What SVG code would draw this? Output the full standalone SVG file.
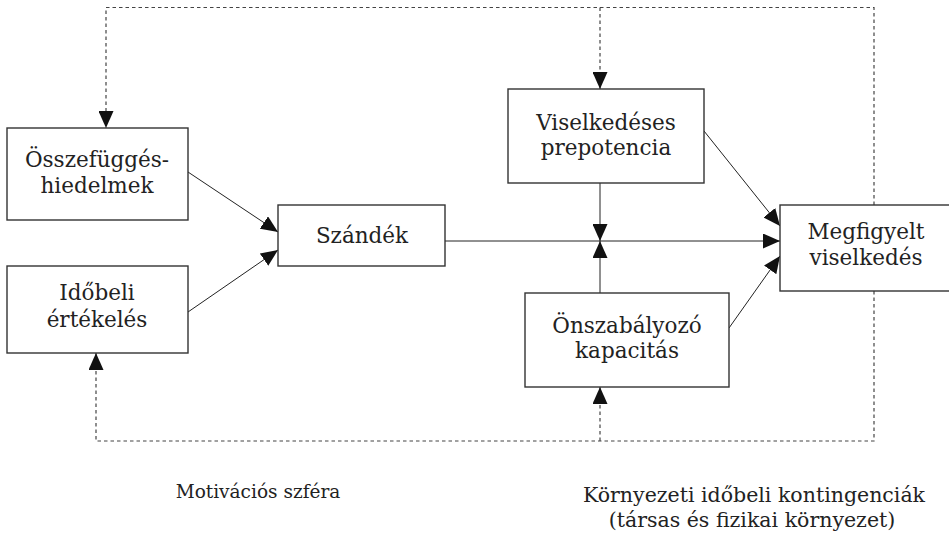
<svg xmlns="http://www.w3.org/2000/svg" width="949" height="539" viewBox="0 0 949 539">
<defs>
<marker id="ah" viewBox="0 0 17 15" refX="17" refY="7.5" markerWidth="17" markerHeight="15" markerUnits="userSpaceOnUse" orient="auto">
<path d="M0,0 L17,7.5 L0,15 Z" fill="#111"/>
</marker>
</defs>
<style>
.box{fill:#fff;stroke:#333;stroke-width:1.4}
.t{font-family:"DejaVu Serif","Liberation Serif",serif;font-size:21.5px;fill:#222;text-anchor:middle}
.b{font-family:"DejaVu Serif","Liberation Serif",serif;font-size:18.5px;fill:#222;text-anchor:middle}
.b2{font-family:"DejaVu Serif","Liberation Serif",serif;font-size:20.5px;fill:#222;text-anchor:middle}
.s{fill:none;stroke:#222;stroke-width:1}
.d{fill:none;stroke:#444;stroke-width:1.2;stroke-dasharray:3.5 3}
</style>
<g id="connectors">
<path class="d" d="M874,205 V7.5 H106 V128" marker-end="url(#ah)"/>
<path class="d" d="M600,7.5 V89" marker-end="url(#ah)"/>
<path class="d" d="M874,291 V441 H96 V353" marker-end="url(#ah)"/>
<path class="d" d="M600,441 V387" marker-end="url(#ah)"/>
<path class="s" d="M188,172 L278,232" marker-end="url(#ah)"/>
<path class="s" d="M188,312 L278,250" marker-end="url(#ah)"/>
<path class="s" d="M445,241 H780" marker-end="url(#ah)"/>
<path class="s" d="M600,183 V241" marker-end="url(#ah)"/>
<path class="s" d="M600,293 V241" marker-end="url(#ah)"/>
<path class="s" d="M704,131 L780,226" marker-end="url(#ah)"/>
<path class="s" d="M729,328 L780,256" marker-end="url(#ah)"/>
</g>
<g id="osszefugges">
<rect class="box" x="7" y="128" width="181" height="92"/>
<text class="t" x="97" y="167">Összefüggés-</text>
<text class="t" x="97" y="193">hiedelmek</text>
</g>
<g id="idobeli">
<rect class="box" x="7" y="266" width="181" height="87"/>
<text class="t" x="97" y="300">Időbeli</text>
<text class="t" x="97" y="327">értékelés</text>
</g>
<g id="szandek">
<rect class="box" x="278" y="205" width="167" height="61"/>
<text class="t" x="362" y="243">Szándék</text>
</g>
<g id="prepotencia">
<rect class="box" x="508" y="89" width="196" height="94"/>
<text class="t" x="606" y="130">Viselkedéses</text>
<text class="t" x="606" y="155">prepotencia</text>
</g>
<g id="onszabalyozo">
<rect class="box" x="525" y="293" width="204" height="94"/>
<text class="t" x="627" y="333">Önszabályozó</text>
<text class="t" x="627" y="358">kapacitás</text>
</g>
<g id="megfigyelt">
<rect class="box" x="780" y="205" width="170" height="86"/>
<text class="t" x="866" y="239">Megfigyelt</text>
<text class="t" x="866" y="265">viselkedés</text>
</g>
<g id="labels">
<text class="b" x="258" y="498">Motivációs szféra</text>
<text class="b2" x="754" y="502">Környezeti időbeli kontingenciák</text>
<text class="b2" x="752" y="527">(társas és fizikai környezet)</text>
</g>
</svg>
